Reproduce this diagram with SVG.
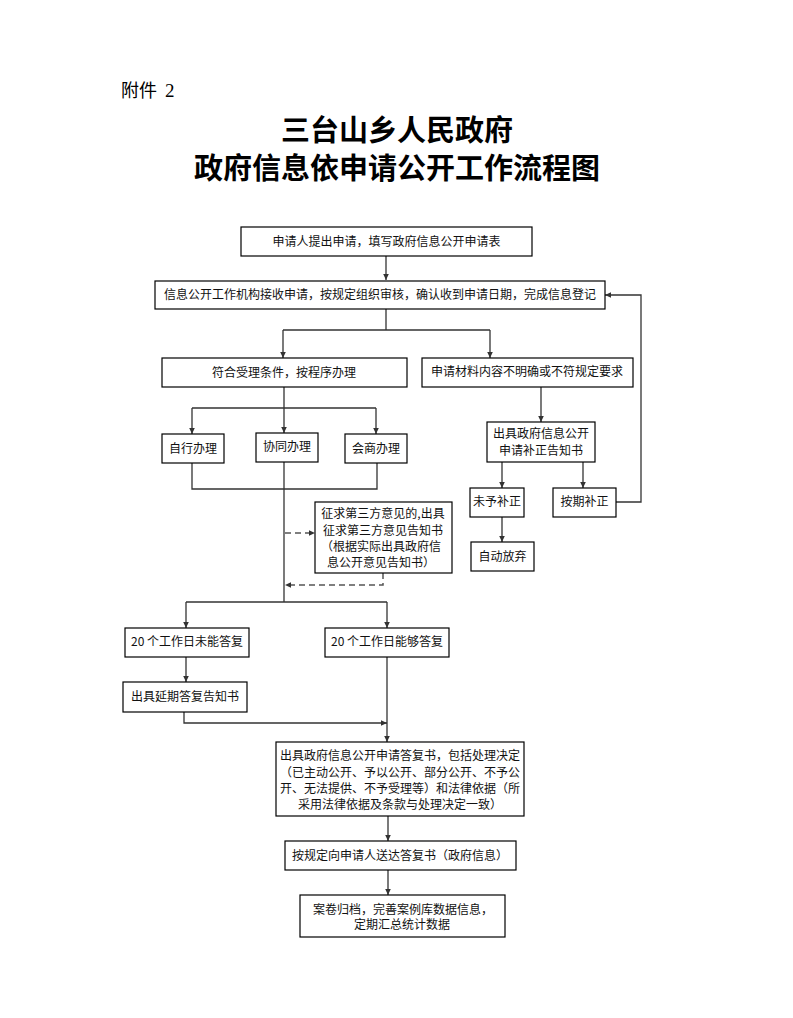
<svg xmlns="http://www.w3.org/2000/svg" width="793" height="1018" viewBox="0 0 793 1018">
<style>
.bg{fill:#fff}
.box{fill:#fff;stroke:#000;stroke-width:1.2}
.t{font-family:"Noto Sans CJK SC","Liberation Sans",sans-serif;font-size:12px;fill:#111;text-anchor:middle}
.ln{fill:none;stroke:#333;stroke-width:1.3}
.dash{fill:none;stroke:#555;stroke-width:1.5;stroke-dasharray:6,4}
.title{font-family:"Noto Sans CJK SC",sans-serif;font-size:29px;font-weight:700;fill:#000;text-anchor:middle}
</style>
<defs>
<marker id="ah" markerUnits="userSpaceOnUse" markerWidth="8" markerHeight="8" refX="7" refY="4" orient="auto">
<path d="M1,1.2 L7,4 L1,6.8 Z" fill="#333"/>
</marker>
</defs>
<rect class="bg" x="0" y="0" width="793" height="1018"/>
<text x="121" y="97" font-family="Noto Sans CJK SC,sans-serif" font-size="18" fill="#000">附件</text>
<text x="165" y="97" font-family="Liberation Serif,serif" font-size="19" fill="#000">2</text>
<text class="title" x="397" y="141">三台山乡人民政府</text>
<text class="title" x="397" y="179">政府信息依申请公开工作流程图</text>

<g id="connectors">
<path class="ln" d="M386,256 V280" marker-end="url(#ah)"/>
<path class="ln" d="M386,309 V330 M283,330 H490"/>
<path class="ln" d="M283,330 V358" marker-end="url(#ah)"/>
<path class="ln" d="M490,330 V358" marker-end="url(#ah)"/>
<path class="ln" d="M284,387 V408 M192,408 H376"/>
<path class="ln" d="M192,408 V434" marker-end="url(#ah)"/>
<path class="ln" d="M284,408 V433" marker-end="url(#ah)"/>
<path class="ln" d="M376,408 V434" marker-end="url(#ah)"/>
<path class="ln" d="M541,387 V422" marker-end="url(#ah)"/>
<path class="ln" d="M502,462 V488" marker-end="url(#ah)"/>
<path class="ln" d="M583,462 V488" marker-end="url(#ah)"/>
<path class="ln" d="M616,502 H641 V295 H605" marker-end="url(#ah)"/>
<path class="ln" d="M502,517 V542" marker-end="url(#ah)"/>
<path class="ln" d="M192,463 V489 H377 V463"/>
<path class="ln" d="M284,462 V602"/>
<path class="dash" d="M285,533 H315" marker-end="url(#ah)"/>
<path class="dash" d="M383,573 V585 H285" marker-end="url(#ah)"/>
<path class="ln" d="M186,602 H387"/>
<path class="ln" d="M186,602 V628" marker-end="url(#ah)"/>
<path class="ln" d="M387,602 V628" marker-end="url(#ah)"/>
<path class="ln" d="M186,657 V682" marker-end="url(#ah)"/>
<path class="ln" d="M184,712 V723 H387" marker-end="url(#ah)"/>
<path class="ln" d="M387,657 V742" marker-end="url(#ah)"/>
<path class="ln" d="M388,816 V841" marker-end="url(#ah)"/>
<path class="ln" d="M388,870 V895" marker-end="url(#ah)"/>
</g>

<g id="n1"><rect class="box" x="241" y="227" width="291" height="29"/><text class="t" x="386.5" y="246">申请人提出申请，填写政府信息公开申请表</text></g>
<g id="n2"><rect class="box" x="155" y="281" width="450" height="28"/><text class="t" x="380" y="299">信息公开工作机构接收申请，按规定组织审核，确认收到申请日期，完成信息登记</text></g>
<g id="n3"><rect class="box" x="162" y="358" width="245" height="29"/><text class="t" x="284" y="377">符合受理条件，按程序办理</text></g>
<g id="n4"><rect class="box" x="422" y="358" width="211" height="29"/><text class="t" x="527" y="376">申请材料内容不明确或不符规定要求</text></g>
<g id="n5"><rect class="box" x="162" y="434" width="62" height="29"/><text class="t" x="193" y="453">自行办理</text></g>
<g id="n6"><rect class="box" x="256" y="433" width="62" height="29"/><text class="t" x="287" y="451">协同办理</text></g>
<g id="n7"><rect class="box" x="345" y="434" width="62" height="29"/><text class="t" x="376" y="453">会商办理</text></g>
<g id="n8"><rect class="box" x="487" y="422" width="108" height="40"/><text class="t" x="541" y="438">出具政府信息公开</text><text class="t" x="541" y="455">申请补正告知书</text></g>
<g id="n9"><rect class="box" x="470" y="488" width="54" height="29"/><text class="t" x="497" y="506">未予补正</text></g>
<g id="n10"><rect class="box" x="553" y="488" width="63" height="29"/><text class="t" x="584.5" y="506">按期补正</text></g>
<g id="n11"><rect class="box" x="315" y="502" width="137" height="71"/><text class="t" x="383" y="518">征求第三方意见的,出具</text><text class="t" x="383" y="535">征求第三方意见告知书</text><text class="t" x="381" y="551">（根据实际出具政府信</text><text class="t" x="381" y="567">息公开意见告知书）</text></g>
<g id="n12"><rect class="box" x="471" y="542" width="63" height="29"/><text class="t" x="502.5" y="561">自动放弃</text></g>
<g id="n13"><rect class="box" x="125" y="628" width="124" height="29"/><text class="t" x="187" y="646">20 个工作日未能答复</text></g>
<g id="n14"><rect class="box" x="325" y="628" width="124" height="29"/><text class="t" x="387" y="646">20 个工作日能够答复</text></g>
<g id="n15"><rect class="box" x="123" y="682" width="124" height="30"/><text class="t" x="185" y="701">出具延期答复告知书</text></g>
<g id="n16"><rect class="box" x="276" y="742" width="248" height="74"/><text class="t" x="400" y="760">出具政府信息公开申请答复书，包括处理决定</text><text class="t" x="400" y="777">（已主动公开、予以公开、部分公开、不予公</text><text class="t" x="400" y="793">开、无法提供、不予受理等）和法律依据（所</text><text class="t" x="400" y="809">采用法律依据及条款与处理决定一致）</text></g>
<g id="n17"><rect class="box" x="285" y="841" width="231" height="29"/><text class="t" x="400" y="860">按规定向申请人送达答复书（政府信息）</text></g>
<g id="n18"><rect class="box" x="300" y="895" width="205" height="42"/><text class="t" x="403" y="914">案卷归档，完善案例库数据信息，</text><text class="t" x="402" y="929">定期汇总统计数据</text></g>
</svg>
